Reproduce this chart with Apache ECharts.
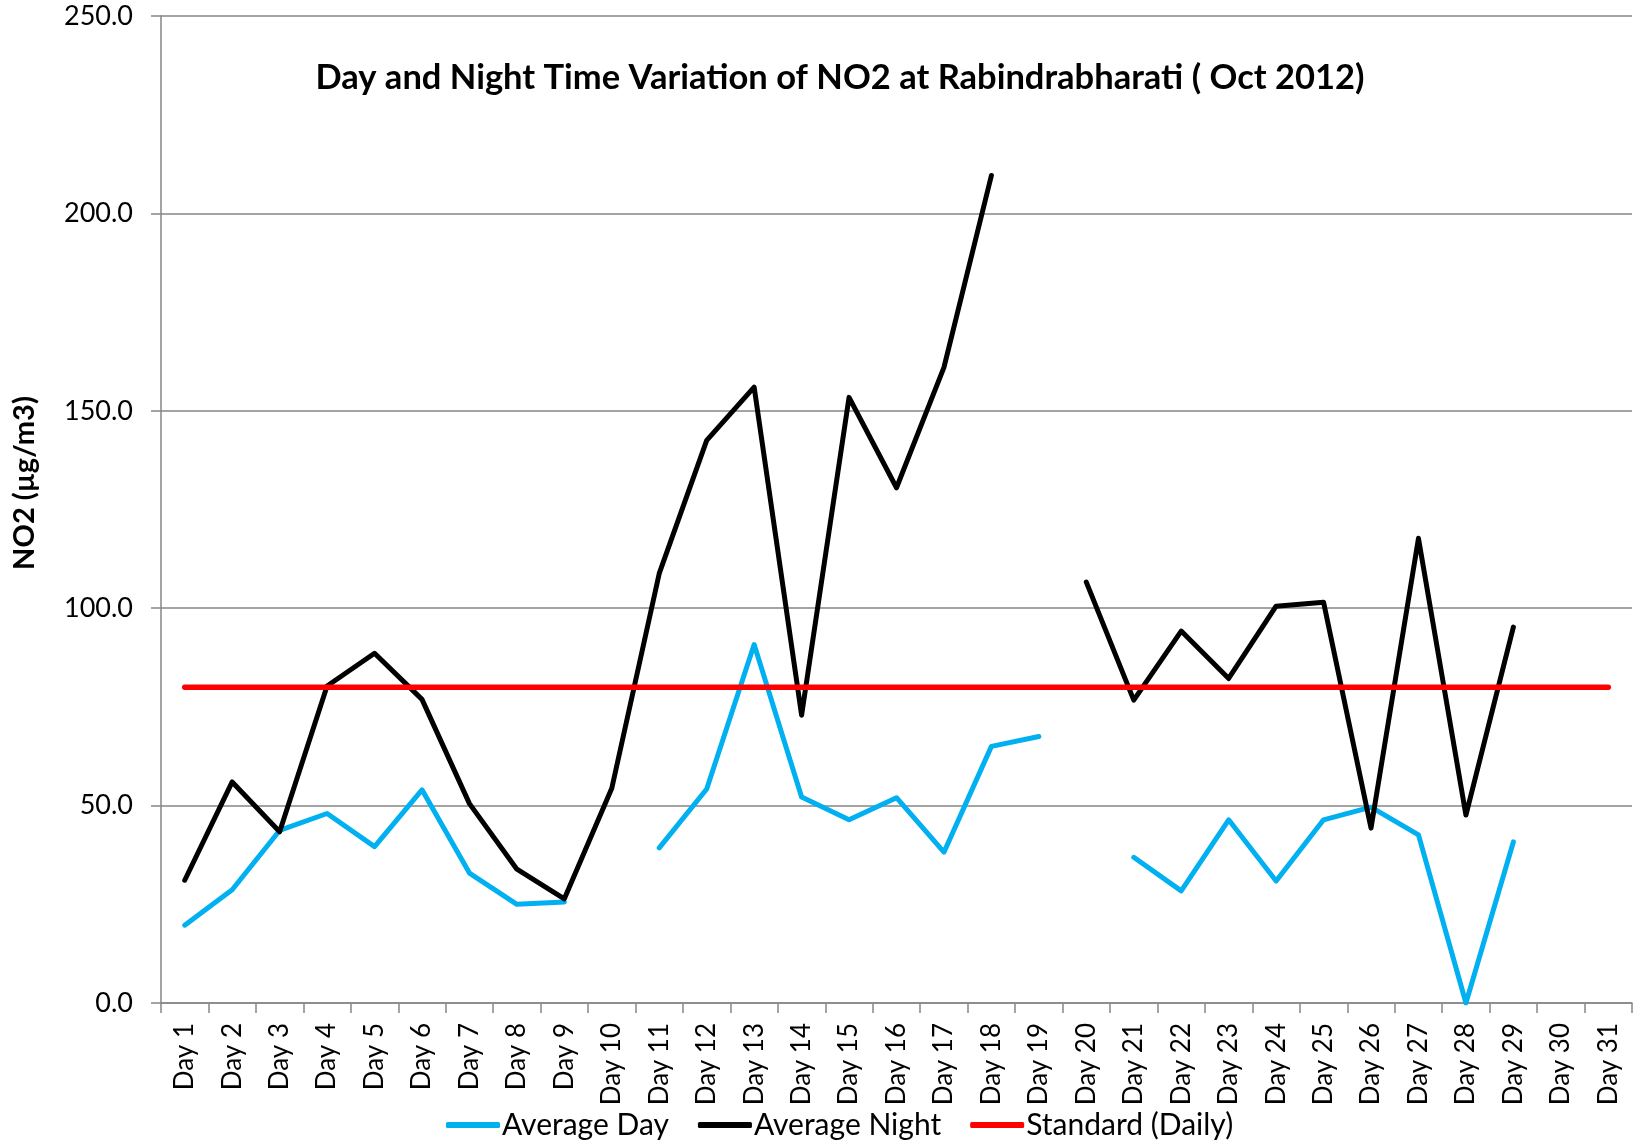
<!DOCTYPE html>
<html>
<head>
<meta charset="utf-8">
<title>NO2 Day and Night - Rabindrabharati</title>
<script src="https://cdn.jsdelivr.net/npm/echarts@6/dist/echarts.min.js"></script>
<style>
  html, body { margin: 0; padding: 0; background: #fff; }
  #main { width: 1633px; height: 1142px; }
</style>
</head>
<body>
<div id="main"></div>
<script>
const days = ['Day 1', 'Day 2', 'Day 3', 'Day 4', 'Day 5', 'Day 6', 'Day 7', 'Day 8', 'Day 9', 'Day 10',
  'Day 11', 'Day 12', 'Day 13', 'Day 14', 'Day 15', 'Day 16', 'Day 17', 'Day 18', 'Day 19', 'Day 20',
  'Day 21', 'Day 22', 'Day 23', 'Day 24', 'Day 25', 'Day 26', 'Day 27', 'Day 28', 'Day 29', 'Day 30', 'Day 31']

// missing days are null so the line breaks
const averageDay = [19.7, 28.7, 43.7, 48.0, 39.6, 54.0, 32.9, 25.0, 25.6, null,
  39.3, 54.2, 90.8, 52.2, 46.4, 52.0, 38.2, 65.0, 67.5, null,
  36.9, 28.4, 46.4, 30.9, 46.4, 49.6, 42.6, 0.0, 40.8, null, null]

const averageNight = [31.1, 56.0, 43.4, 80.3, 88.6, 76.9, 50.5, 33.9, 26.4, 54.4,
  108.8, 142.5, 156.0, 72.9, 153.4, 130.5, 161.0, 209.6, null, 106.6,
  76.7, 94.2, 82.2, 100.5, 101.5, 44.3, 117.7, 47.6, 95.2, null, null]

const standardDaily = [80, 80, 80, 80, 80, 80, 80, 80, 80, 80,
  80, 80, 80, 80, 80, 80, 80, 80, 80, 80,
  80, 80, 80, 80, 80, 80, 80, 80, 80, 80, 80]

const font = 'Lato, "Open Sans", sans-serif'
const gridGray = '#868686'

var chart = echarts.init(document.getElementById('main'))
chart.setOption({
  animation: false,
  backgroundColor: '#fff',
  title: {
    text: 'Day and Night Time Variation of NO2 at Rabindrabharati ( Oct 2012)',
    left: 835,
    textAlign: 'center',
    top: 55,
    textStyle: { fontFamily: font, fontWeight: 'bold', fontSize: 34.5, color: '#000' },
  },
  graphic: [
    {
      // y axis title
      type: 'text',
      x: 25,
      y: 483,
      rotation: Math.PI / 2,
      style: {
        text: 'NO2 (µg/m3)',
        font: 'bold 29px ' + font,
        fill: '#000',
        textAlign: 'center',
        textVerticalAlign: 'middle',
      },
    },
  ],
  legend: {
    left: 441,
    top: 1105,
    itemGap: 29,
    itemWidth: 54,
    itemHeight: 6,
    icon: 'roundRect',
    textStyle: { fontFamily: font, fontSize: 30, color: '#000', padding: [0, 0, 0, -3] },
    data: ['Average Day', 'Average Night', 'Standard (Daily)'],
  },
  grid: { left: 161, right: 1, top: 16, bottom: 139 },
  xAxis: {
    type: 'category',
    data: days,
    boundaryGap: true,
    axisLine: { lineStyle: { color: gridGray, width: 1.5 } },
    axisTick: { show: true, length: 10, lineStyle: { color: gridGray, width: 1.5 } },
    axisLabel: {
      interval: 0,
      rotate: 90,
      margin: 20,
      fontFamily: font,
      fontSize: 26,
      color: '#000',
    },
  },
  yAxis: {
    type: 'value',
    min: 0,
    max: 250,
    interval: 50,
    axisLine: { show: true, lineStyle: { color: gridGray, width: 1.5 } },
    axisTick: { show: true, length: 10, lineStyle: { color: gridGray, width: 1.5 } },
    splitLine: { lineStyle: { color: gridGray, width: 1.5 } },
    axisLabel: {
      margin: 28,
      fontFamily: font,
      fontSize: 27,
      color: '#000',
      formatter: (v) => v.toFixed(1),
    },
  },
  series: [
    {
      name: 'Average Day',
      type: 'line',
      data: averageDay,
      symbol: 'none',
      connectNulls: false,
      itemStyle: { color: '#00B0F0' },
      lineStyle: { color: '#00B0F0', width: 5, cap: 'round', join: 'round' },
    },
    {
      name: 'Average Night',
      type: 'line',
      data: averageNight,
      symbol: 'none',
      connectNulls: false,
      itemStyle: { color: '#000000' },
      lineStyle: { color: '#000000', width: 5, cap: 'round', join: 'round' },
    },
    {
      name: 'Standard (Daily)',
      type: 'line',
      data: standardDaily,
      symbol: 'none',
      itemStyle: { color: '#FF0000' },
      lineStyle: { color: '#FF0000', width: 5.5, cap: 'round', join: 'round' },
    },
  ],
})
</script>
</body>
</html>
